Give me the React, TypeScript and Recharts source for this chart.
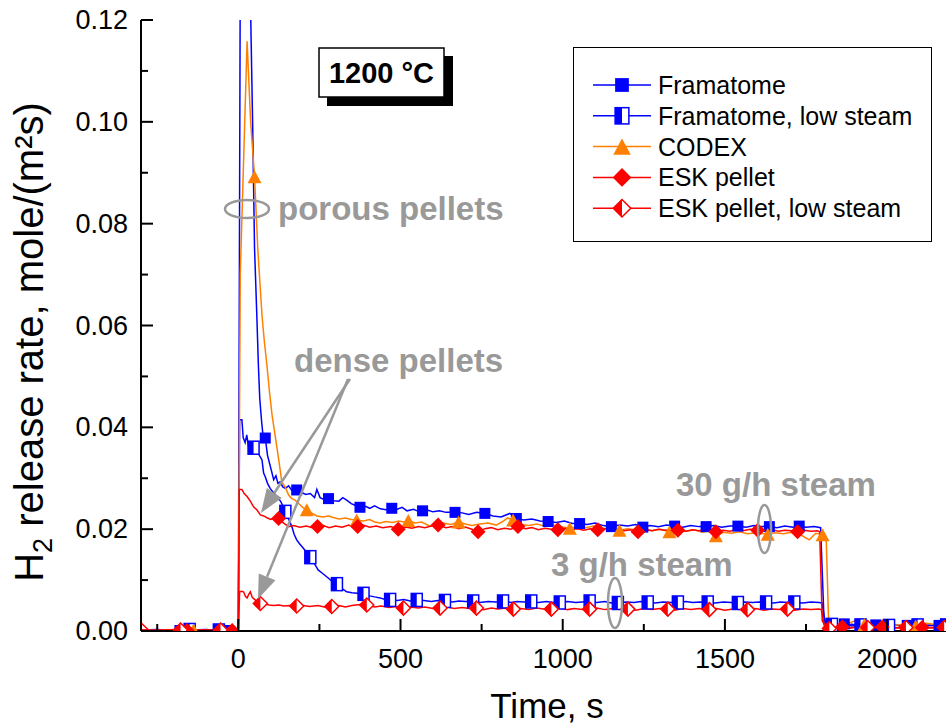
import React from 'react';
import { LineChart, Line, XAxis, YAxis, Legend } from 'recharts';

// [time s, rate mole/(m2 s), 1 = symbol drawn at this point]
const framatome: number[][] = [
  [-300, 0.0002], [-260, 0.0001], [-200, 0.0002], [-180, 0.0001, 1], [-100, 0.0002], [-40, 0.0001, 1], [0, 0.0002],
  [6, 0.13], [20, 0.16], [37, 0.125], [44, 0.1], [50, 0.0752], [57, 0.062], [62, 0.052], [66, 0.0457], [72, 0.041],
  [76, 0.0385], [83, 0.0379, 1], [90, 0.0345], [96, 0.033], [102, 0.0315], [109, 0.0297], [116, 0.0305], [122, 0.029],
  [129, 0.0293], [137, 0.0283], [145, 0.028], [155, 0.0285], [165, 0.0276], [180, 0.0277, 1], [195, 0.0272],
  [208, 0.0268], [222, 0.027], [235, 0.0262], [242, 0.0278], [252, 0.0262], [265, 0.0258], [278, 0.026, 1],
  [295, 0.0256], [310, 0.0255], [322, 0.0262], [334, 0.0257], [348, 0.025], [360, 0.0247], [375, 0.0243, 1],
  [392, 0.0245], [405, 0.0241], [420, 0.0246], [438, 0.024], [455, 0.0238], [473, 0.0241, 1], [490, 0.0239],
  [505, 0.0243], [520, 0.0236], [540, 0.0239], [555, 0.0235], [568, 0.0236, 1], [585, 0.0237], [600, 0.0234],
  [620, 0.0236], [640, 0.0233], [668, 0.0233, 1], [690, 0.0232], [710, 0.0229], [735, 0.0233], [760, 0.0231, 1],
  [785, 0.0226], [810, 0.0224], [837, 0.0231], [857, 0.0221, 1], [880, 0.0218], [905, 0.022], [930, 0.0216],
  [955, 0.0215, 1], [980, 0.0213], [1005, 0.0216], [1030, 0.0211], [1052, 0.0211, 1], [1075, 0.0209], [1100, 0.0212],
  [1125, 0.0207], [1150, 0.0205, 1], [1175, 0.0208], [1200, 0.0206], [1225, 0.0209], [1247, 0.0204, 1], [1270, 0.0207],
  [1295, 0.0205], [1320, 0.0208], [1345, 0.0206, 1], [1370, 0.0204], [1395, 0.0207], [1420, 0.0205], [1442, 0.0205, 1],
  [1465, 0.0207], [1490, 0.0204], [1515, 0.0206], [1540, 0.0206, 1], [1565, 0.0204], [1590, 0.0207], [1612, 0.0205],
  [1637, 0.0205, 1], [1660, 0.0203], [1685, 0.0206], [1710, 0.0204], [1729, 0.0206, 1], [1750, 0.0204], [1775, 0.0205],
  [1795, 0.0203], [1805, 0.003], [1815, 0.0008], [1830, 0.0015], [1850, 0.0012], [1868, 0.0014, 1], [1890, 0.001],
  [1920, 0.0013], [1950, 0.001], [1965, 0.0012, 1], [1990, 0.0009], [2020, 0.0012], [2050, 0.001], [2062, 0.0011, 1],
  [2090, 0.0013], [2120, 0.001], [2150, 0.0012], [2160, 0.0011, 1], [2200, 0.001],
];

const framatomeLow: number[][] = [
  [-300, 0.0002], [-250, 0.0003], [-200, 0.0001], [-150, 0.0002, 1], [-100, 0.0003], [-60, 0.0001, 1], [0, 0.0002],
  [4, 0.0415], [11, 0.0415], [15, 0.038], [21, 0.037], [26, 0.0385], [32, 0.036], [40, 0.0365], [47, 0.036, 1],
  [57, 0.035], [65, 0.0345], [73, 0.0336], [78, 0.031], [83, 0.0303], [90, 0.029], [98, 0.028], [108, 0.0272],
  [119, 0.0264], [130, 0.0255], [138, 0.0245], [145, 0.0234, 1], [155, 0.022], [165, 0.0205], [172, 0.019],
  [180, 0.0179], [188, 0.0172], [196, 0.0166], [210, 0.0155], [222, 0.0145, 1], [235, 0.0132], [246, 0.012],
  [260, 0.0113], [277, 0.0104], [290, 0.0097], [304, 0.0092, 1], [320, 0.0083], [334, 0.0077], [350, 0.0075],
  [368, 0.0074], [386, 0.0073, 1], [405, 0.0069], [420, 0.0067], [437, 0.0065], [452, 0.0062], [468, 0.0061, 1],
  [490, 0.006], [510, 0.0062], [530, 0.0059], [550, 0.0061, 1], [572, 0.006], [595, 0.0058], [615, 0.006],
  [637, 0.0059, 1], [660, 0.0057], [680, 0.0059], [700, 0.0058], [724, 0.0058, 1], [745, 0.0056], [770, 0.0058],
  [795, 0.0057], [816, 0.0058, 1], [840, 0.0056], [860, 0.0058], [880, 0.0057], [903, 0.0058, 1], [925, 0.0056],
  [950, 0.0058], [970, 0.0056], [991, 0.0056, 1], [1015, 0.0058], [1040, 0.0056], [1060, 0.0057], [1083, 0.0058, 1],
  [1105, 0.0056], [1130, 0.0058], [1150, 0.0055], [1170, 0.0055, 1], [1195, 0.0057], [1220, 0.0056], [1240, 0.0058],
  [1262, 0.0056, 1], [1285, 0.0055], [1310, 0.0057], [1335, 0.0056], [1355, 0.0056, 1], [1380, 0.0058], [1400, 0.0056],
  [1425, 0.0057], [1447, 0.0056, 1], [1470, 0.0055], [1495, 0.0057], [1520, 0.0056], [1540, 0.0055, 1], [1560, 0.0057],
  [1585, 0.0056], [1605, 0.0057], [1627, 0.0056, 1], [1650, 0.0055], [1672, 0.0057], [1695, 0.0056], [1714, 0.0056, 1],
  [1740, 0.0055], [1765, 0.0057], [1790, 0.0056], [1800, 0.0055], [1810, 0.0008], [1830, 0.0012, 1], [1860, 0.001],
  [1890, 0.0013], [1918, 0.0011, 1], [1950, 0.0009], [1980, 0.0012], [2006, 0.001, 1], [2040, 0.0012], [2070, 0.001],
  [2094, 0.0011, 1], [2130, 0.0012], [2160, 0.001], [2182, 0.0011, 1], [2200, 0.001],
];

const codex: number[][] = [
  [-300, 0.0002], [-250, 0.0001], [-200, 0.0003], [-138, 0.0002, 1], [-100, 0.0001], [-50, 0.0002], [0, 0.0002],
  [6, 0.07], [27, 0.1158], [38, 0.1], [50, 0.0892, 1], [60, 0.075], [73, 0.062], [80, 0.057], [88, 0.0523],
  [96, 0.047], [104, 0.0424], [112, 0.039], [119, 0.036], [126, 0.033], [134, 0.0293], [145, 0.0282], [155, 0.0267],
  [165, 0.026], [175, 0.0257], [190, 0.0248], [200, 0.0242], [211, 0.0238, 1], [225, 0.0232], [242, 0.0226],
  [260, 0.0224], [278, 0.0226], [293, 0.0223], [310, 0.022], [330, 0.0222], [348, 0.0219], [365, 0.0218, 1],
  [385, 0.0216], [405, 0.0219], [420, 0.0214], [437, 0.0212], [455, 0.0215], [475, 0.0213], [495, 0.0216],
  [510, 0.0214], [524, 0.0217, 1], [545, 0.0212], [565, 0.0214], [591, 0.0206], [610, 0.021], [630, 0.0212],
  [655, 0.0209], [679, 0.0214, 1], [700, 0.021], [720, 0.0207], [745, 0.021], [770, 0.0212], [795, 0.0208],
  [815, 0.0215], [830, 0.0222], [847, 0.0218, 1], [870, 0.0209], [895, 0.0207], [920, 0.021], [945, 0.0206],
  [970, 0.0208], [995, 0.0205], [1022, 0.0202, 1], [1045, 0.0205], [1070, 0.0203], [1095, 0.0206], [1120, 0.0201],
  [1150, 0.0203], [1175, 0.0198, 1], [1200, 0.0201], [1225, 0.0199], [1250, 0.0202], [1275, 0.0197], [1300, 0.02],
  [1329, 0.0195, 1], [1355, 0.0198], [1380, 0.0196], [1405, 0.0199], [1430, 0.0194], [1450, 0.0196], [1472, 0.0187, 1],
  [1495, 0.0194], [1520, 0.0192], [1545, 0.0195], [1570, 0.0191], [1600, 0.0193], [1632, 0.019, 1], [1655, 0.0193],
  [1680, 0.0191], [1705, 0.0194], [1730, 0.019], [1760, 0.0179], [1780, 0.0192], [1801, 0.0189, 1], [1812, 0.0185],
  [1820, 0.001], [1840, 0.0006], [1870, 0.0012], [1900, 0.002], [1930, 0.0013, 1], [1960, 0.001], [1990, 0.0018],
  [2020, 0.0011], [2060, 0.0014], [2088, 0.001, 1], [2120, 0.0015], [2160, 0.0012], [2200, 0.0013],
];

const eskPellet: number[][] = [
  [-300, 0.0016], [-285, 0.0007], [-275, 0.0001], [-220, 0.0002], [-158, 0.0001, 1], [-100, 0.0002], [-19, 0.0001, 1],
  [0, 0.0002], [3, 0.0278], [11, 0.0278], [18, 0.027], [27, 0.0264], [37, 0.0255], [47, 0.0244], [57, 0.0238],
  [68, 0.0228], [78, 0.0226], [90, 0.0222], [100, 0.0219], [112, 0.0222], [124, 0.0221, 1], [140, 0.0212],
  [155, 0.0205], [170, 0.0207], [190, 0.0204], [210, 0.0206], [228, 0.0203], [244, 0.0205, 1], [262, 0.0207],
  [280, 0.0203], [300, 0.0206], [320, 0.0204], [340, 0.0208], [355, 0.0204], [368, 0.0205, 1], [385, 0.0208],
  [405, 0.0204], [425, 0.0206], [445, 0.0203], [470, 0.0205], [493, 0.02, 1], [515, 0.0204], [535, 0.0202],
  [555, 0.0205], [575, 0.0203], [595, 0.0206], [616, 0.0208, 1], [640, 0.0203], [660, 0.0205], [680, 0.0201],
  [700, 0.0204], [720, 0.02], [739, 0.0195, 1], [760, 0.0201], [780, 0.0203], [800, 0.0199], [820, 0.0202],
  [840, 0.02], [862, 0.0205, 1], [885, 0.0201], [905, 0.0203], [925, 0.0199], [945, 0.0202], [965, 0.02],
  [985, 0.0199, 1], [1005, 0.0202], [1025, 0.0199], [1045, 0.0201], [1065, 0.0198], [1085, 0.0201], [1108, 0.0199, 1],
  [1130, 0.0201], [1150, 0.0198], [1170, 0.02], [1190, 0.0197], [1210, 0.0199], [1232, 0.0195, 1], [1255, 0.0199],
  [1275, 0.0197], [1295, 0.02], [1315, 0.0198], [1335, 0.0199], [1355, 0.0198, 1], [1380, 0.0196], [1400, 0.0199],
  [1420, 0.0197], [1440, 0.02], [1455, 0.0197], [1472, 0.0195, 1], [1495, 0.0198], [1515, 0.0196], [1535, 0.0199],
  [1555, 0.0197], [1578, 0.02], [1601, 0.0198, 1], [1625, 0.0197], [1645, 0.0199], [1665, 0.0196], [1685, 0.0198],
  [1705, 0.0197], [1724, 0.0195, 1], [1745, 0.0198], [1765, 0.0196], [1785, 0.0197], [1792, 0.0195], [1800, 0.002],
  [1812, 0.0006], [1835, 0.0009], [1862, 0.0008, 1], [1890, 0.0006], [1920, 0.0009], [1950, 0.0007], [1985, 0.0008, 1],
  [2020, 0.0006], [2060, 0.0008], [2090, 0.0007], [2108, 0.0007, 1], [2140, 0.0006], [2170, 0.0008], [2200, 0.0007],
];

const eskPelletLow: number[][] = [
  [-300, 0.0002], [-250, 0.0001], [-178, 0.0002, 1], [-120, 0.0001], [-55, 0.0002, 1], [0, 0.0002], [4, 0.0077],
  [10, 0.0078], [16, 0.0077], [22, 0.0068], [27, 0.0065], [32, 0.0072], [37, 0.0077], [43, 0.0066], [50, 0.0062],
  [57, 0.0058], [68, 0.0054, 1], [80, 0.0053], [95, 0.0051], [109, 0.005], [125, 0.0051], [140, 0.0049], [160, 0.005],
  [180, 0.0049, 1], [200, 0.005], [220, 0.0048], [245, 0.005], [265, 0.0047], [288, 0.0048, 1], [310, 0.005],
  [330, 0.0047], [350, 0.005], [375, 0.0052], [396, 0.0051, 1], [420, 0.0047], [440, 0.0049], [465, 0.0046],
  [485, 0.0048], [509, 0.0045, 1], [530, 0.0047], [555, 0.0045], [575, 0.0047], [600, 0.0044], [622, 0.0045, 1],
  [645, 0.0047], [665, 0.0044], [690, 0.0046], [712, 0.0044], [734, 0.0045, 1], [755, 0.0042], [780, 0.0045],
  [800, 0.0043], [825, 0.0045], [848, 0.0043, 1], [870, 0.0044], [895, 0.0042], [920, 0.0045], [940, 0.0043],
  [965, 0.0043, 1], [990, 0.0045], [1015, 0.0042], [1035, 0.0044], [1060, 0.0042], [1083, 0.0043, 1], [1105, 0.0045],
  [1130, 0.0042], [1155, 0.0044], [1178, 0.0043], [1201, 0.0043, 1], [1225, 0.0041], [1250, 0.0044], [1275, 0.0042],
  [1300, 0.0044], [1324, 0.0043, 1], [1345, 0.0041], [1370, 0.0044], [1395, 0.0042], [1420, 0.0044], [1452, 0.0042, 1],
  [1475, 0.0044], [1500, 0.0041], [1525, 0.0043], [1548, 0.0042], [1570, 0.0042, 1], [1595, 0.0044], [1620, 0.0041],
  [1645, 0.0043], [1670, 0.0042], [1693, 0.0043, 1], [1715, 0.0041], [1740, 0.0043], [1765, 0.0042], [1790, 0.0043],
  [1797, 0.0042], [1808, 0.0006], [1822, 0.0005, 1], [1850, 0.0008], [1880, 0.0006], [1910, 0.0009], [1940, 0.0007, 1],
  [1970, 0.0005], [2000, 0.0008], [2030, 0.0006], [2058, 0.0007, 1], [2090, 0.0009], [2120, 0.0006], [2150, 0.0008],
  [2176, 0.0007, 1], [2200, 0.0006],
];

const xTicks = [-250, 0, 250, 500, 750, 1000, 1250, 1500, 1750, 2000];
const yTicks = [0, 0.01, 0.02, 0.03, 0.04, 0.05, 0.06, 0.07, 0.08, 0.09, 0.1, 0.11, 0.12];

const series = [
  { name: 'Framatome', color: '#0000ff', shape: 'square', points: framatome },
  { name: 'Framatome, low steam', color: '#0000ff', shape: 'halfSquare', points: framatomeLow },
  { name: 'CODEX', color: '#ff8000', shape: 'triangle', points: codex },
  { name: 'ESK pellet', color: '#ff0000', shape: 'diamond', points: eskPellet },
  { name: 'ESK pellet, low steam', color: '#ff0000', shape: 'halfDiamond', points: eskPelletLow },
];

const FONT = 'Liberation Sans, Arial, Helvetica, sans-serif';
const GRAY = '#999999';

function Marker({ shape, cx, cy, color, s = 1 }: any) {
  if (shape === 'square') {
    const h = 5.5 * s;
    return <rect x={cx - h} y={cy - h} width={2 * h} height={2 * h} fill={color} />;
  }
  if (shape === 'halfSquare') {
    const w = 5.5 * s, h = 6.5 * s;
    return (
      <g>
        <rect x={cx - w} y={cy - h} width={2 * w} height={2 * h} fill="#fff" stroke={color} strokeWidth={1.5} />
        <rect x={cx - w} y={cy - h} width={w} height={2 * h} fill={color} />
      </g>
    );
  }
  if (shape === 'triangle') {
    const w = 7 * s, h = 6.5 * s;
    return <polygon points={`${cx},${cy - h} ${cx + w},${cy + h} ${cx - w},${cy + h}`} fill={color} />;
  }
  const r = (shape === 'diamond' ? 7.5 : 7) * s;
  const full = `${cx},${cy - r} ${cx + r},${cy} ${cx},${cy + r} ${cx - r},${cy}`;
  if (shape === 'diamond') return <polygon points={full} fill={color} />;
  return (
    <g>
      <polygon points={full} fill="#fff" stroke={color} strokeWidth={1.5} />
      <polygon points={`${cx},${cy - r} ${cx},${cy + r} ${cx - r},${cy}`} fill={color} />
    </g>
  );
}

function XTick(props: any) {
  const { x, y, payload } = props;
  const major = payload.value % 500 === 0;
  return (
    <g>
      <line x1={x} x2={x} y1={y} y2={y - (major ? 12 : 7)} stroke="#000" strokeWidth={2} />
      {major && (
        <text x={x} y={y + 37} textAnchor="middle" fontSize={27} fill="#000">
          {payload.value}
        </text>
      )}
    </g>
  );
}

function YTick(props: any) {
  const { x, y, payload } = props;
  const major = Math.round(payload.value * 100) % 2 === 0;
  return (
    <g>
      <line x1={x} x2={x + (major ? 12 : 7)} y1={y} y2={y} stroke="#000" strokeWidth={2} />
      {major && (
        <text x={x - 13} y={y + 9} textAnchor="end" fontSize={27} fill="#000">
          {payload.value.toFixed(2)}
        </text>
      )}
    </g>
  );
}

function LegendBox() {
  return (
    <div style={{ width: 359, height: 195, border: '1.5px solid #000', background: '#fff', boxSizing: 'border-box' }}>
      <svg width={356} height={192}>
        {series.map((s, i) => {
          const y = 37 + i * 30.8;
          return (
            <g key={s.name}>
              <line x1={19} x2={77} y1={y} y2={y} stroke={s.color} strokeWidth={1.5} />
              <Marker shape={s.shape} cx={48} cy={y} color={s.color} s={1.25} />
              <text x={84} y={y + 9} fontSize={25} fill="#000">
                {s.name}
              </text>
            </g>
          );
        })}
      </svg>
    </div>
  );
}

function Arrow({ x1, y1, x2, y2 }: any) {
  const a = Math.atan2(y2 - y1, x2 - x1);
  const len = 24, half = 9;
  const bx = x2 - len * Math.cos(a), by = y2 - len * Math.sin(a);
  const px = -Math.sin(a) * half, py = Math.cos(a) * half;
  return (
    <g>
      <line x1={x1} y1={y1} x2={bx} y2={by} stroke={GRAY} strokeWidth={2.5} />
      <polygon points={`${x2},${y2} ${bx + px},${by + py} ${bx - px},${by - py}`} fill={GRAY} />
    </g>
  );
}

export default function App() {
  return (
    <div
      style={{
        position: 'absolute', left: 0, top: 0, width: 946, height: 727,
        overflow: 'hidden', background: '#fff', fontFamily: FONT,
      }}
    >
      <LineChart width={960} height={727} margin={{ top: 20, right: 8, bottom: 36, left: 81 }}>
        <XAxis
          xAxisId="b" dataKey="t" type="number" domain={[-300, 2200]} allowDataOverflow
          ticks={xTicks} interval={0} tickSize={0} tickMargin={0} tickLine={false}
          tick={<XTick />} height={60} axisLine={{ stroke: '#000', strokeWidth: 2 }}
        />
        <XAxis
          xAxisId="top" orientation="top" type="number" domain={[-300, 2200]} height={0}
          tick={false} tickLine={false} axisLine={{ stroke: '#000', strokeWidth: 2 }}
        />
        <YAxis
          yAxisId="l" type="number" domain={[0, 0.12]} allowDataOverflow ticks={yTicks} interval={0}
          tickSize={0} tickMargin={0} tickLine={false} tick={<YTick />} width={60}
          axisLine={{ stroke: '#000', strokeWidth: 2 }}
        />
        {series.map((s) => (
          <Line
            key={s.name}
            name={s.name}
            xAxisId="b"
            yAxisId="l"
            data={s.points.map(([t, v, m]) => ({ t, v, m: m === 1 }))}
            dataKey="v"
            type="linear"
            stroke={s.color}
            strokeWidth={1.5}
            activeDot={false}
            dot={(p: any) =>
              p.payload.m ? (
                <Marker key={`m-${p.index}`} shape={s.shape} cx={p.cx} cy={p.cy} color={s.color} />
              ) : (
                <g key={`m-${p.index}`} />
              )
            }
            isAnimationActive={false}
          />
        ))}
        <Legend
          layout="vertical" align="center" verticalAlign="middle"
          content={() => <LegendBox />}
          wrapperStyle={{ left: 573, top: 47, width: 359, height: 195 }}
        />
      </LineChart>

      <svg
        width={946} height={727}
        style={{ position: 'absolute', left: 0, top: 0, pointerEvents: 'none', fontFamily: FONT }}
      >
        <rect x={327} y={56} width={126} height={50} fill="#000" />
        <rect x={319} y={48} width={125} height={49} fill="#fff" stroke="#000" strokeWidth={1.5} />
        <text x={381.5} y={83} textAnchor="middle" fontSize={29} fontWeight="bold" fill="#000">1200 °C</text>

        <ellipse cx={247} cy={209} rx={22} ry={9} fill="none" stroke={GRAY} strokeWidth={2.5} />
        <text x={278} y={220} fontSize={33} fontWeight="bold" fill={GRAY}>porous pellets</text>

        <text x={294} y={372} fontSize={33} fontWeight="bold" fill={GRAY}>dense pellets</text>
        <Arrow x1={350} y1={379} x2={261} y2={513} />
        <Arrow x1={348} y1={379} x2={258} y2={599} />

        <text x={676} y={496} fontSize={33} fontWeight="bold" fill={GRAY}>30 g/h steam</text>
        <ellipse cx={764.5} cy={529} rx={6.5} ry={24} fill="none" stroke={GRAY} strokeWidth={2.5} />

        <text x={551} y={576} fontSize={33} fontWeight="bold" fill={GRAY}>3 g/h steam</text>
        <ellipse cx={615} cy={603} rx={7} ry={25} fill="none" stroke={GRAY} strokeWidth={2.5} />

        <text transform="translate(43,342) rotate(-90)" textAnchor="middle" fontSize={40} fill="#000">
          <tspan>H</tspan>
          <tspan fontSize={27} dy={9}>2</tspan>
          <tspan dy={-9}> release rate, mole/(m²s)</tspan>
        </text>
        <text x={547} y={718} textAnchor="middle" fontSize={35} fill="#000">Time, s</text>
      </svg>
    </div>
  );
}
